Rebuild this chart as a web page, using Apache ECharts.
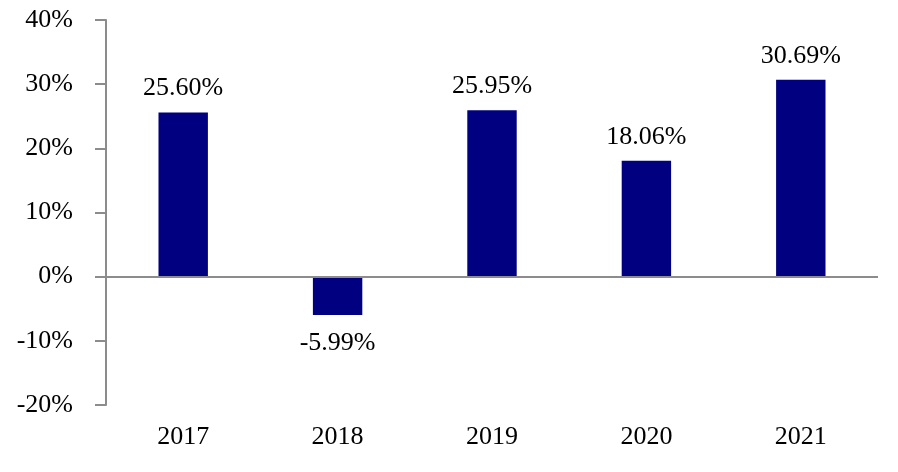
<!DOCTYPE html>
<html>
<head>
<meta charset="utf-8">
<script src="https://cdn.jsdelivr.net/npm/echarts@6/dist/echarts.min.js"></script>
<style>html,body{margin:0;padding:0;background:#fff}#c{width:898px;height:472px}</style>
</head>
<body>
<div id="c"></div>
<script>
var categories = ['2017', '2018', '2019', '2020', '2021'];
var returns = [25.60, -5.99, 25.95, 18.06, 30.69];
var yTicks = { min: -20, max: 40, step: 10 };

var FONT = 'Liberation Serif';
var FS = 26;
var chart = echarts.init(document.getElementById('c'), null, { renderer: 'canvas' });
chart.setOption({
  animation: false,
  backgroundColor: '#ffffff',
  grid: { left: 106, right: 20, top: 20, bottom: 67 },
  xAxis: {
    type: 'category',
    data: categories,
    axisLine: { show: false, onZero: false },
    axisTick: { show: false },
    axisLabel: { color: '#000', fontFamily: FONT, fontSize: FS, margin: 19 }
  },
  yAxis: {
    type: 'value',
    min: yTicks.min, max: yTicks.max, interval: yTicks.step,
    axisLine: { show: true, lineStyle: { color: '#8c8c8c', width: 2 } },
    axisTick: { show: true, length: 11, lineStyle: { color: '#8c8c8c', width: 2 } },
    splitLine: { show: false },
    axisLabel: { color: '#000', fontFamily: FONT, fontSize: FS, margin: 33,
      formatter: function (v) { return v + '%'; } }
  },
  series: [{
    type: 'bar',
    data: returns.map(function (v) {
      return { value: v, label: v >= 0 ? { position: 'top', distance: 11 } : { position: 'bottom', distance: 15 } };
    }),
    barWidth: '32%',
    itemStyle: { color: '#000080' },
    label: {
      show: true, color: '#000', fontFamily: FONT, fontSize: FS,
      formatter: function (p) { return p.value.toFixed(2) + '%'; }
    },
    markLine: {
      silent: true, symbol: 'none', label: { show: false },
      lineStyle: { color: '#8c8c8c', width: 2, type: 'solid' },
      data: [{ yAxis: 0 }]
    }
  }]
});
</script>
</body>
</html>
